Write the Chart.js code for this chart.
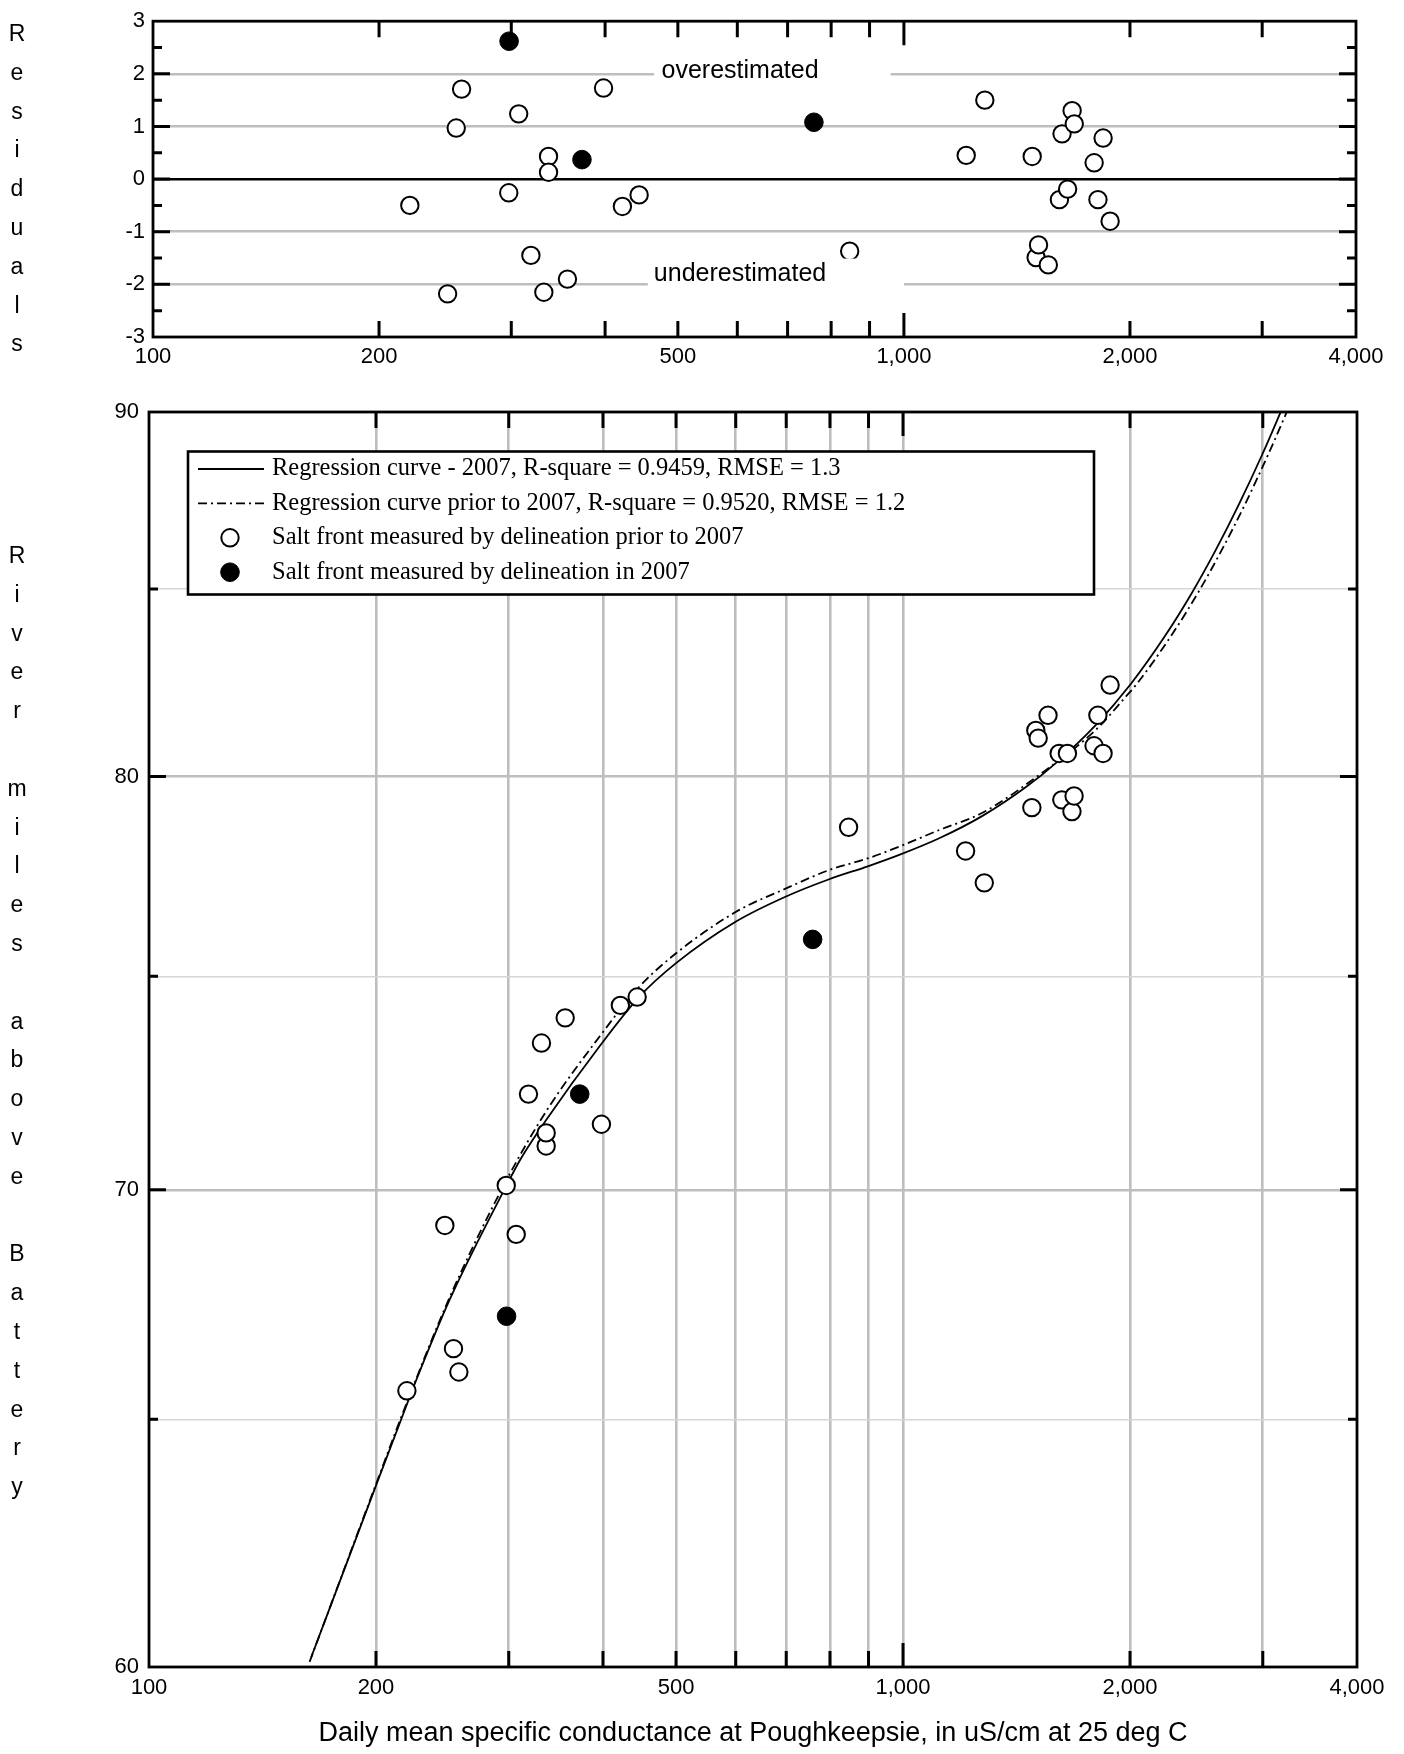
<!DOCTYPE html>
<html>
<head>
<meta charset="utf-8">
<script src="https://cdn.jsdelivr.net/npm/chart.js@4.4.1/dist/chart.umd.min.js"></script>
<style>
  body { margin: 0; background: #fff; width: 1404px; height: 1754px; position: relative; overflow: hidden;
         font-family: "Liberation Sans", Arial, sans-serif; }
  canvas { position: absolute; left: 0; }
  .vlab { position: absolute; left: 5px; width: 24px; text-align: center; font-size: 23px; line-height: 38.8px; color: #000; }
</style>
</head>
<body>
<canvas id="chartResid" width="1404" height="380" style="top:0"></canvas>
<canvas id="chartMiles" width="1404" height="1374" style="top:380px"></canvas>
<div class="vlab" id="labResid" style="top:14px"></div>
<div class="vlab" id="labMiles" style="top:536px"></div>
<script>
// values
// salt front measured prior to 2007: conductance, river mile, residual
var condPrior  = [219.8, 246.8, 253.4, 257.6, 297.7, 306.9, 318.6, 331.5, 336.3, 336.3, 356.4, 398.1, 421.8, 444.0,
                  846.8, 1210.5, 1281.6, 1482, 1500, 1511, 1557, 1611, 1624, 1652, 1675, 1686, 1792, 1813, 1842, 1882];
var milesPrior = [65.6, 69.2, 66.5, 66.0, 70.1, 69.0, 72.2, 73.4, 71.0, 71.3, 74.0, 71.5, 74.3, 74.5,
                  78.7, 78.1, 77.3, 79.2, 81.2, 81.0, 81.6, 80.6, 79.4, 80.6, 79.1, 79.5, 80.8, 81.6, 80.6, 82.4];
var residPrior = [-0.50, -2.18, 0.97, 1.71, -0.26, 1.24, -1.45, -2.15, 0.43, 0.13, -1.90, 1.73, -0.52, -0.30,
                  -1.37, 0.45, 1.50, 0.43, -1.49, -1.25, -1.63, -0.39, 0.86, -0.19, 1.30, 1.05, 0.31, -0.39, 0.78, -0.80];

// salt front measured in 2007
var cond2007  = [298, 372.6, 758.8];
var miles2007 = [67.2, 72.2, 75.9];
var resid2007 = [2.62, 0.37, 1.08];

// regression curves
var curveCond2007  = [164.1, 200.1, 218.3, 226.2, 250.3, 297.7, 311.5, 336.3, 395.7, 447.1, 500, 600.5, 699.6, 798.1,
                      900.1, 988.5, 1116.8, 1274.6, 1455.6, 1594.6, 1802.3, 2004.7, 2231, 2419, 2598, 2790, 2996, 3190];
var curveMiles2007 = [60.19, 63.63, 65.19, 65.83, 67.55, 70.09, 70.72, 71.6, 73.32, 74.51, 75.32, 76.34, 76.96, 77.39,
                      77.72, 78.00, 78.42, 78.99, 79.73, 80.35, 81.35, 82.43, 83.75, 84.91, 86.07, 87.36, 88.78, 90.15];
var curveCondPrior  = [163.3, 200.1, 218.3, 250.3, 297.7, 336.3, 395.7, 447.1, 500, 600.5, 699.6, 798.1, 900.1, 988.5,
                       1116.8, 1274.6, 1515, 1802.3, 1974, 2041.7, 2272.4, 2464, 2646, 2842, 3051, 3250];
var curveMilesPrior = [60.10, 63.66, 65.23, 67.60, 70.21, 71.80, 73.55, 74.75, 75.56, 76.58, 77.16, 77.62, 77.92, 78.21,
                       78.63, 79.07, 80.04, 81.22, 82.09, 82.43, 83.75, 84.91, 86.07, 87.36, 88.78, 90.15];

// axes
var condTicks  = [100, 200, 300, 400, 500, 600, 700, 800, 900, 1000, 2000, 3000, 4000];
var condLabels = [100, 200, 500, 1000, 2000, 4000];
var residTicks = [-3, -2.5, -2, -1.5, -1, -0.5, 0, 0.5, 1, 1.5, 2, 2.5, 3];
var milesTicks = [60, 65, 70, 75, 80, 85, 90];
var milesLabels = [60, 70, 80, 90];

// in-plot labels of the residual panel
var noteText  = ['overestimated', 'underestimated'];
var noteCond  = [605, 605];
var noteResid = [2.06, -1.81];

var SANS = '"Liberation Sans", Arial, sans-serif';
var SERIF = '"Liberation Serif", "Times New Roman", serif';

function pts(xs, ys) {
  return xs.map(function (x, i) { return { x: x, y: ys[i] }; });
}

function stack(id, text) {
  document.getElementById(id).innerHTML =
    text.split('').map(function (c) { return c === ' ' ? '&nbsp;' : c; }).join('<br>');
}
stack('labResid', 'Residuals');
stack('labMiles', 'River miles above Battery');

// box frame + inward tick marks on all four sides
var frameTicks = {
  id: 'frameTicks',
  afterDatasetsDraw: function (chart, args, opts) {
    var ctx = chart.ctx, a = chart.chartArea, sx = chart.scales.x, sy = chart.scales.y;
    ctx.save();
    ctx.strokeStyle = '#000';
    ctx.lineWidth = 3;
    ctx.beginPath();
    condTicks.forEach(function (v) {
      if (v <= sx.min || v >= sx.max) return;
      var px = sx.getPixelForValue(v);
      var len = v === 1000 ? 24 : 16;
      ctx.moveTo(px, a.top); ctx.lineTo(px, a.top + len);
      ctx.moveTo(px, a.bottom); ctx.lineTo(px, a.bottom - len);
    });
    opts.yTicks.forEach(function (v) {
      if (v <= sy.min || v >= sy.max) return;
      var py = sy.getPixelForValue(v);
      var len = opts.yMajor(v) ? 17 : 9;
      ctx.moveTo(a.left, py); ctx.lineTo(a.left + len, py);
      ctx.moveTo(a.right, py); ctx.lineTo(a.right - len, py);
    });
    ctx.stroke();
    ctx.lineWidth = 2.8;
    ctx.strokeRect(a.left, a.top, a.right - a.left, a.bottom - a.top);
    ctx.restore();
  }
};

// white boxes with text that break the +2 / -2 lines
var notes = {
  id: 'notes',
  afterDatasetsDraw: function (chart) {
    var ctx = chart.ctx, sx = chart.scales.x, sy = chart.scales.y;
    var gaps = [[465, 960, 2.35, 1.75], [456, 1000, -1.51, -2.12]];
    ctx.save();
    ctx.font = '25px ' + SANS;
    ctx.textAlign = 'center';
    ctx.textBaseline = 'middle';
    noteText.forEach(function (t, i) {
      var g = gaps[i];
      var x0 = sx.getPixelForValue(g[0]), x1 = sx.getPixelForValue(g[1]);
      var y0 = sy.getPixelForValue(g[2]), y1 = sy.getPixelForValue(g[3]);
      ctx.fillStyle = '#fff';
      ctx.fillRect(x0, y0, x1 - x0, y1 - y0);
      ctx.fillStyle = '#000';
      ctx.fillText(t, sx.getPixelForValue(noteCond[i]), sy.getPixelForValue(noteResid[i]));
    });
    ctx.restore();
  }
};

// boxed legend inside the lower panel
var boxLegend = {
  id: 'boxLegend',
  afterDatasetsDraw: function (chart) {
    var ctx = chart.ctx, a = chart.chartArea;
    var L = a.left + 39, T = a.top + 39.5, W = 906, H = 143;
    ctx.save();
    ctx.fillStyle = '#fff';
    ctx.fillRect(L, T, W, H);
    ctx.lineWidth = 2.6;
    ctx.strokeStyle = '#000';
    ctx.strokeRect(L, T, W, H);
    ctx.font = '24.5px ' + SERIF;
    ctx.textBaseline = 'middle';
    chart.data.datasets.forEach(function (ds, i) {
      var cy = T + 17.5 + i * 34.4;
      ctx.strokeStyle = '#000';
      if (ds.showLine) {
        ctx.beginPath();
        ctx.setLineDash(ds.borderDash || []);
        ctx.lineWidth = ds.borderWidth;
        ctx.moveTo(L + 10, cy); ctx.lineTo(L + 76, cy);
        ctx.stroke();
        ctx.setLineDash([]);
      } else {
        ctx.beginPath();
        ctx.arc(L + 42, cy, ds.pointRadius, 0, Math.PI * 2);
        ctx.fillStyle = ds.backgroundColor;
        ctx.fill();
        ctx.lineWidth = ds.borderWidth;
        ctx.stroke();
      }
      ctx.fillStyle = '#000';
      ctx.fillText(ds.label, L + 84, cy);
    });
    ctx.restore();
  }
};

function condAxis(height, pad, withTitle) {
  return {
    type: 'logarithmic', min: 100, max: 4000,
    afterFit: function (s) { s.height = height; },
    afterBuildTicks: function (s) { s.ticks = condTicks.map(function (v) { return { value: v }; }); },
    ticks: {
      autoSkip: false, maxRotation: 0, padding: pad, color: '#000',
      font: { size: 22, family: SANS },
      callback: function (v) { return condLabels.indexOf(v) >= 0 ? v.toLocaleString('en-US') : ''; }
    },
    grid: {
      display: withTitle, drawTicks: false, lineWidth: 2.6,
      color: function (c) { return c.tick && c.tick.value > 100 && c.tick.value < 4000 ? '#bebebe' : 'rgba(0,0,0,0)'; }
    },
    border: { display: false },
    title: {
      display: withTitle,
      text: 'Daily mean specific conductance at Poughkeepsie, in uS/cm at 25 deg C',
      color: '#000', font: { size: 27, family: SANS }, padding: { top: 0, bottom: 3.8 }
    }
  };
}

// residual panel
new Chart(document.getElementById('chartResid'), {
  type: 'scatter',
  data: {
    datasets: [
      { label: 'prior to 2007', data: pts(condPrior, residPrior), pointRadius: 8.7, borderWidth: 2,
        backgroundColor: '#fff', borderColor: '#000', order: 2 },
      { label: '2007', data: pts(cond2007, resid2007), pointRadius: 9.3, borderWidth: 1,
        backgroundColor: '#000', borderColor: '#000', order: 1 }
    ]
  },
  options: {
    responsive: false, animation: false, events: [],
    layout: { padding: { top: 18, right: 48, left: 0, bottom: 0 } },
    plugins: {
      legend: { display: false }, tooltip: { enabled: false },
      frameTicks: { yTicks: residTicks, yMajor: function (v) { return Number.isInteger(v); } }
    },
    scales: {
      x: condAxis(43, 6.5, false),
      y: {
        min: -3, max: 3,
        afterFit: function (s) { s.width = 153; },
        afterBuildTicks: function (s) { s.ticks = residTicks.map(function (v) { return { value: v }; }); },
        ticks: {
          padding: 8, color: '#000', font: { size: 22, family: SANS },
          callback: function (v) { return Number.isInteger(v) ? String(v) : ''; }
        },
        grid: {
          drawTicks: false, lineWidth: 2.6,
          color: function (c) {
            var v = c.tick ? c.tick.value : null;
            if (v === 0) return '#000';
            if (v === 1 || v === -1 || v === 2 || v === -2) return '#bebebe';
            return 'rgba(0,0,0,0)';
          }
        },
        border: { display: false }
      }
    }
  },
  plugins: [notes, frameTicks]
});

// river mile panel
new Chart(document.getElementById('chartMiles'), {
  type: 'scatter',
  data: {
    datasets: [
      { label: 'Regression curve - 2007, R-square = 0.9459, RMSE = 1.3',
        data: pts(curveCond2007, curveMiles2007), showLine: true, pointRadius: 0,
        borderColor: '#000', borderWidth: 1.8, cubicInterpolationMode: 'monotone', order: 3 },
      { label: 'Regression curve prior to 2007, R-square = 0.9520, RMSE = 1.2',
        data: pts(curveCondPrior, curveMilesPrior), showLine: true, pointRadius: 0,
        borderColor: '#000', borderWidth: 1.8, borderDash: [9, 4, 2, 4], cubicInterpolationMode: 'monotone', order: 4 },
      { label: 'Salt front measured by delineation prior to 2007',
        data: pts(condPrior, milesPrior), pointRadius: 8.7, borderWidth: 2,
        backgroundColor: '#fff', borderColor: '#000', order: 2 },
      { label: 'Salt front measured by delineation in 2007',
        data: pts(cond2007, miles2007), pointRadius: 9.3, borderWidth: 1,
        backgroundColor: '#000', borderColor: '#000', order: 1 }
    ]
  },
  options: {
    responsive: false, animation: false, events: [],
    layout: { padding: { top: 32, right: 47, left: 0, bottom: 0 } },
    plugins: {
      legend: { display: false }, tooltip: { enabled: false },
      frameTicks: { yTicks: milesTicks, yMajor: function (v) { return milesLabels.indexOf(v) >= 0; } }
    },
    scales: {
      x: condAxis(87, 7.4, true),
      y: {
        type: 'logarithmic', min: 60, max: 90,
        afterFit: function (s) { s.width = 149; },
        afterBuildTicks: function (s) { s.ticks = milesTicks.map(function (v) { return { value: v }; }); },
        ticks: {
          padding: 10, color: '#000', font: { size: 22, family: SANS },
          callback: function (v) { return milesLabels.indexOf(v) >= 0 ? String(v) : ''; }
        },
        grid: {
          drawTicks: false,
          lineWidth: function (c) { return c.tick && milesLabels.indexOf(c.tick.value) >= 0 ? 2.6 : 1.4; },
          color: function (c) {
            var v = c.tick ? c.tick.value : null;
            if (v === 60 || v === 90) return 'rgba(0,0,0,0)';
            return milesLabels.indexOf(v) >= 0 ? '#bebebe' : '#d6d6d6';
          }
        },
        border: { display: false }
      }
    }
  },
  plugins: [boxLegend, frameTicks]
});
</script>
</body>
</html>
